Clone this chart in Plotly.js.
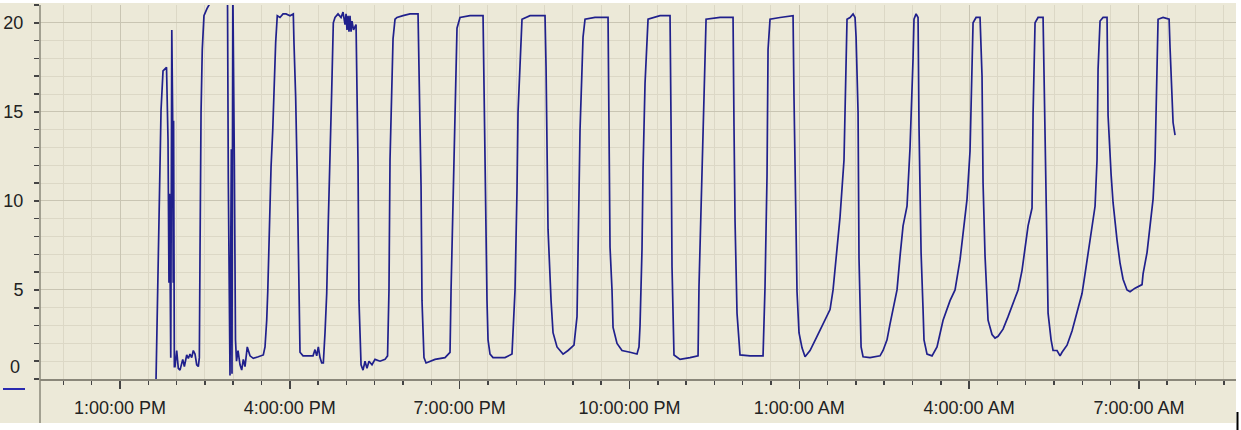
<!DOCTYPE html>
<html>
<head>
<meta charset="utf-8">
<script src="https://cdn.plot.ly/plotly-3.0.1.min.js"></script>
<style>
  html, body { margin: 0; padding: 0; background: #ffffff; }
  #chart { width: 1241px; height: 430px; }
</style>
</head>
<body>
<div id="chart"></div>
<script>
// Time of each reading, in minutes after 1:00:00 PM on the first day
var minutesAfter1PM = [
  38.2, 40.3, 43.5, 45.6, 49.3, 50.9, 51.9, 52.5, 53.0, 53.8, 54.9, 55.8, 56.4, 56.8, 57.6,
  58.3, 60.1, 61.8, 63.6, 66.5, 68.2, 70.7, 72.4, 74.2, 76.0, 77.7, 79.5, 81.3, 83.0, 84.1,
  84.8, 85.9, 87.2, 89.0, 92.2, 95.4, 98.6, 101.8, 112.4,
  113.9, 114.8, 116.6, 118.0, 118.7, 119.6, 120.3, 121.2, 122.4, 123.5,
  125.1, 127.2, 129.0, 130.7, 132.5, 134.9, 137.8, 141.3, 146.6, 151.9, 153.7,
  155.5, 156.6, 158.3, 160.1, 161.9, 163.2, 165.0, 166.7,
  169.6, 172.8, 176.0, 180.2, 183.7,
  184.4, 186.2, 187.9, 189.4, 190.8,
  194.0, 204.6, 206.7, 208.5, 210.2, 212.0, 213.8, 215.5,
  217.3, 219.1, 220.8, 222.6, 224.4, 226.1,
  227.9, 231.1, 234.3, 236.4, 238.5, 239.6, 240.6, 241.7, 242.7, 243.8, 244.9, 245.9, 247.5, 250.2,
  251.2, 252.3, 253.3, 255.5,
  257.6, 259.7, 261.8, 263.9, 267.1, 270.3, 275.6, 280.9, 283.6,
  285.1, 286.2, 288.3, 289.4, 291.5,
  293.6, 300.0, 307.4, 315.9,
  316.9, 319.1, 320.1, 322.2,
  324.4, 333.9, 344.5, 349.8,
  350.9, 353.0, 356.2, 357.2, 360.4,
  371.0, 384.8,
  385.8, 386.9, 389.0, 390.1, 392.2, 395.4, 408.1, 415.5,
  418.7, 420.8, 421.9, 424.0, 426.1,
  434.6, 450.5,
  451.6, 453.7, 456.9, 459.0, 463.2, 469.6, 474.9, 481.2,
  484.4, 485.5, 487.6, 489.7, 490.8, 492.9,
  503.5, 517.3,
  518.3, 519.4, 521.5, 522.6, 526.8, 532.1, 540.6, 548.0, 550.1,
  551.2, 553.3, 554.4, 556.5, 558.6, 559.7,
  572.4, 583.0,
  584.1, 585.1, 587.2, 593.6, 604.2, 612.7,
  613.7, 616.9, 619.0, 621.2,
  636.0, 649.8,
  650.8, 651.9, 654.0, 657.2, 667.8, 681.6,
  683.7, 685.8, 686.9, 689.0,
  699.6, 713.4,
  714.4, 716.6, 717.6, 719.7, 722.9, 726.1,
  731.4, 738.8, 745.2, 752.6, 755.8, 760.0, 763.2, 767.4, 769.6, 770.6,
  773.8, 777.0, 779.1,
  780.2, 782.3, 783.3, 785.5, 787.6, 795.0, 805.6, 808.8,
  813.0, 816.2, 819.4, 823.6, 826.8, 830.0, 834.2, 837.4, 840.6, 841.6,
  843.8, 845.9,
  846.9, 849.1, 851.2, 852.2, 855.4, 860.7,
  866.0, 869.2, 872.4, 879.8, 885.1, 890.4, 893.6, 897.8, 901.0, 903.1, 904.2,
  907.4, 911.6,
  913.7, 914.8, 916.9, 919.0, 920.1, 924.3, 927.5, 930.7,
  936.0, 941.3, 946.6, 951.9, 956.1, 959.3, 962.5, 966.7, 967.8, 969.9,
  973.1, 978.4,
  979.4, 980.5, 982.6, 983.7, 986.9, 989.0, 993.2, 996.4, 998.5,
  1003.8, 1009.1, 1014.4, 1019.7, 1022.9, 1026.1, 1030.3, 1033.5, 1035.6, 1036.7, 1038.8,
  1042.0, 1046.2,
  1047.3, 1050.5, 1052.6, 1056.8, 1060.0, 1063.2, 1067.4, 1070.6, 1075.9, 1083.3,
  1084.4, 1088.6, 1091.8, 1095.0, 1097.1, 1099.2, 1100.3,
  1105.6, 1112.0,
  1113.0, 1115.1, 1116.2, 1118.3
];

// Reading at each time
var values = [
  0.0, 6.4, 15.1, 17.3, 17.5, 13.4, 5.4, 10.4, 5.4, 1.2, 19.6, 14.8, 5.4, 14.5, 0.7,
  0.7, 1.6, 0.6, 0.5, 1.1, 0.7, 1.35, 1.15, 1.4, 1.2, 1.6, 1.4, 0.8, 0.7, 1.2,
  7.0, 15.0, 18.5, 20.4, 20.8, 21.1, 21.6, 22.5, 22.5,
  22.0, 11.2, 0.2, 12.9, 0.3, 22.0, 18.5, 12.1, 2.2, 1.0,
  1.6, 0.8, 0.5, 1.1, 0.7, 1.8, 1.3, 1.16, 1.25, 1.35, 1.8,
  3.3, 4.9, 9.1, 11.9, 14.0, 16.3, 18.9, 20.4,
  20.3, 20.5, 20.5, 20.4, 20.5,
  18.9, 15.8, 11.2, 4.8, 1.5,
  1.3, 1.3, 1.65, 1.3, 1.8, 1.2, 0.9, 0.9,
  2.6, 4.8, 8.9, 11.9, 16.2, 20.0,
  20.3, 20.5, 20.3, 20.6, 19.9, 20.5, 19.6, 20.4, 19.5, 20.4, 19.5, 20.1, 19.6, 19.9,
  17.1, 12.1, 4.4, 0.8,
  0.5, 1.0, 0.6, 1.0, 0.8, 1.1, 1.0, 1.1, 1.3,
  5.0, 12.3, 17.0, 19.1, 20.2,
  20.3, 20.4, 20.5, 20.5,
  17.2, 10.8, 4.4, 1.2,
  0.9, 1.1, 1.2, 1.5,
  5.0, 9.7, 15.8, 19.7, 20.3,
  20.4, 20.4,
  16.4, 10.8, 4.4, 2.2, 1.4, 1.2, 1.2, 1.4,
  5.0, 10.6, 15.0, 17.6, 20.2,
  20.4, 20.4,
  17.5, 8.4, 4.4, 2.6, 1.8, 1.4, 1.6, 1.9,
  3.5, 7.2, 14.0, 17.4, 19.2, 20.2,
  20.3, 20.3,
  14.4, 7.4, 5.0, 2.9, 2.0, 1.6, 1.5, 1.4, 1.8,
  3.0, 7.3, 11.8, 16.6, 19.7, 20.2,
  20.4, 20.4,
  14.2, 6.3, 1.35, 1.1, 1.2, 1.3,
  5.2, 11.6, 17.2, 20.2,
  20.3, 20.3,
  14.2, 8.9, 3.7, 1.35, 1.3, 1.3,
  5.2, 11.4, 18.5, 20.2,
  20.3, 20.4,
  15.8, 9.2, 4.9, 2.6, 1.75, 1.25,
  1.6, 2.4, 3.1, 3.9, 5.0, 7.1, 9.1, 12.3, 17.4, 20.2,
  20.3, 20.5, 20.3,
  19.2, 15.0, 6.8, 1.8, 1.25, 1.2, 1.3, 1.6,
  2.2, 3.1, 3.9, 5.0, 6.9, 8.6, 9.7, 13.0, 18.0, 20.2,
  20.5, 20.3,
  14.2, 7.1, 3.9, 2.2, 1.4, 1.3,
  1.8, 2.6, 3.3, 4.4, 5.0, 6.7, 8.2, 10.1, 12.8, 17.4, 20.0,
  20.3, 20.3,
  17.0, 11.0, 6.9, 5.0, 3.3, 2.5, 2.3, 2.4,
  2.8, 3.5, 4.2, 5.0, 6.1, 7.4, 8.6, 9.6, 14.9, 20.0,
  20.3, 20.3,
  17.4, 12.7, 6.9, 3.7, 2.2, 1.6, 1.6, 1.3, 1.5,
  1.9, 2.7, 3.7, 4.8, 5.9, 7.1, 8.4, 9.7, 12.3, 17.4, 20.1,
  20.3, 20.3,
  14.8, 11.5, 9.9, 7.8, 6.5, 5.6, 5.0, 4.9, 5.1, 5.3,
  5.9, 7.1, 8.6, 10.1, 12.3, 17.4, 20.2,
  20.3, 20.2,
  18.6, 16.3, 14.4, 13.7
];

var yTickVals = [5, 10, 15, 20];
var yTickText = ['5', '10', '15', '20'];
var zeroLabel = '0';

var BASE_MS = Date.UTC(2010, 0, 1, 13, 0, 0);
function pad(n) { return (n < 10 ? '0' : '') + n; }
function stamp(ms) {
  var d = new Date(ms);
  return d.getUTCFullYear() + '-' + pad(d.getUTCMonth() + 1) + '-' + pad(d.getUTCDate()) + ' ' +
    pad(d.getUTCHours()) + ':' + pad(d.getUTCMinutes()) + ':' + pad(d.getUTCSeconds());
}
var times = minutesAfter1PM.map(function (m) { return stamp(BASE_MS + Math.round(m * 60000)); });

// plot area geometry (px) used for decorations outside the axes
var W = 1241, H = 430, L = 40, R = 5, T = 5, B = 51;
var PW = W - L - R, PH = H - T - B;
function px(x) { return (x - L) / PW; }
function py(y) { return (H - B - y) / PH; }

var beige = '#ECE9D8';
var trace = {
  x: times,
  y: values,
  type: 'scatter',
  mode: 'lines',
  line: { color: '#20208c', width: 1.7 },
  hoverinfo: 'skip',
  showlegend: false
};

var layout = {
  width: W, height: H,
  margin: { l: L, r: R, t: T, b: B, pad: 0 },
  paper_bgcolor: '#ffffff',
  plot_bgcolor: beige,
  font: { family: '"Liberation Sans", Arial, sans-serif', size: 18, color: '#222222' },
  showlegend: false,
  xaxis: {
    type: 'date',
    range: [stamp(BASE_MS - 84.8 * 60000), stamp(BASE_MS + 1182.9 * 60000)],
    tick0: stamp(BASE_MS),
    dtick: 3 * 3600000,
    tickformat: '%-I:%M:%S %p',
    ticks: 'outside', ticklen: 8, tickwidth: 1.5, tickcolor: '#444444',
    ticklabelstandoff: 4,
    showgrid: true, gridcolor: '#C9C5B3', gridwidth: 1,
    showline: true, linecolor: '#8A877A', linewidth: 1.5,
    zeroline: false,
    minor: { dtick: 1800000, ticks: 'outside', ticklen: 4, tickwidth: 1.5, tickcolor: '#444444',
             showgrid: true, gridcolor: '#DCD8C6', gridwidth: 1 },
    fixedrange: true
  },
  yaxis: {
    range: [0, 21],
    tickmode: 'array', tickvals: yTickVals, ticktext: yTickText,
    ticks: 'outside', ticklen: 5, tickwidth: 1.5, tickcolor: '#444444',
    ticklabelstandoff: 7,
    showgrid: true, gridcolor: '#C9C5B3', gridwidth: 1,
    showline: false,
    zeroline: false,
    minor: { dtick: 1, ticks: 'outside', ticklen: 5, tickwidth: 1.5, tickcolor: '#444444',
             showgrid: true, gridcolor: '#DCD8C6', gridwidth: 1 },
    fixedrange: true
  },
  shapes: [
    { type: 'rect', xref: 'paper', yref: 'paper', layer: 'below',
      x0: px(0), x1: 1, y0: py(423), y1: py(3),
      fillcolor: beige, line: { width: 0 } },
    { type: 'line', xref: 'paper', yref: 'paper', layer: 'above',
      x0: 0, x1: 0, y0: py(423), y1: 1,
      line: { color: '#8A877A', width: 1.5 } },
    { type: 'line', xref: 'paper', yref: 'paper', layer: 'above',
      x0: px(3), x1: px(25), y0: py(389), y1: py(389),
      line: { color: '#2a2ab0', width: 2 } },
    { type: 'line', xref: 'paper', yref: 'paper', layer: 'above',
      x0: px(1237.5), x1: px(1237.5), y0: py(430), y1: py(412),
      line: { color: '#000000', width: 2 } }
  ],
  annotations: [
    { text: zeroLabel, xref: 'paper', yref: 'y', x: px(22), y: 0.67,
      xanchor: 'right', yanchor: 'middle', showarrow: false,
      font: { family: '"Liberation Sans", Arial, sans-serif', size: 18, color: '#222222' } }
  ]
};

Plotly.newPlot('chart', [trace], layout, { staticPlot: true, displayModeBar: false });
</script>
</body>
</html>
